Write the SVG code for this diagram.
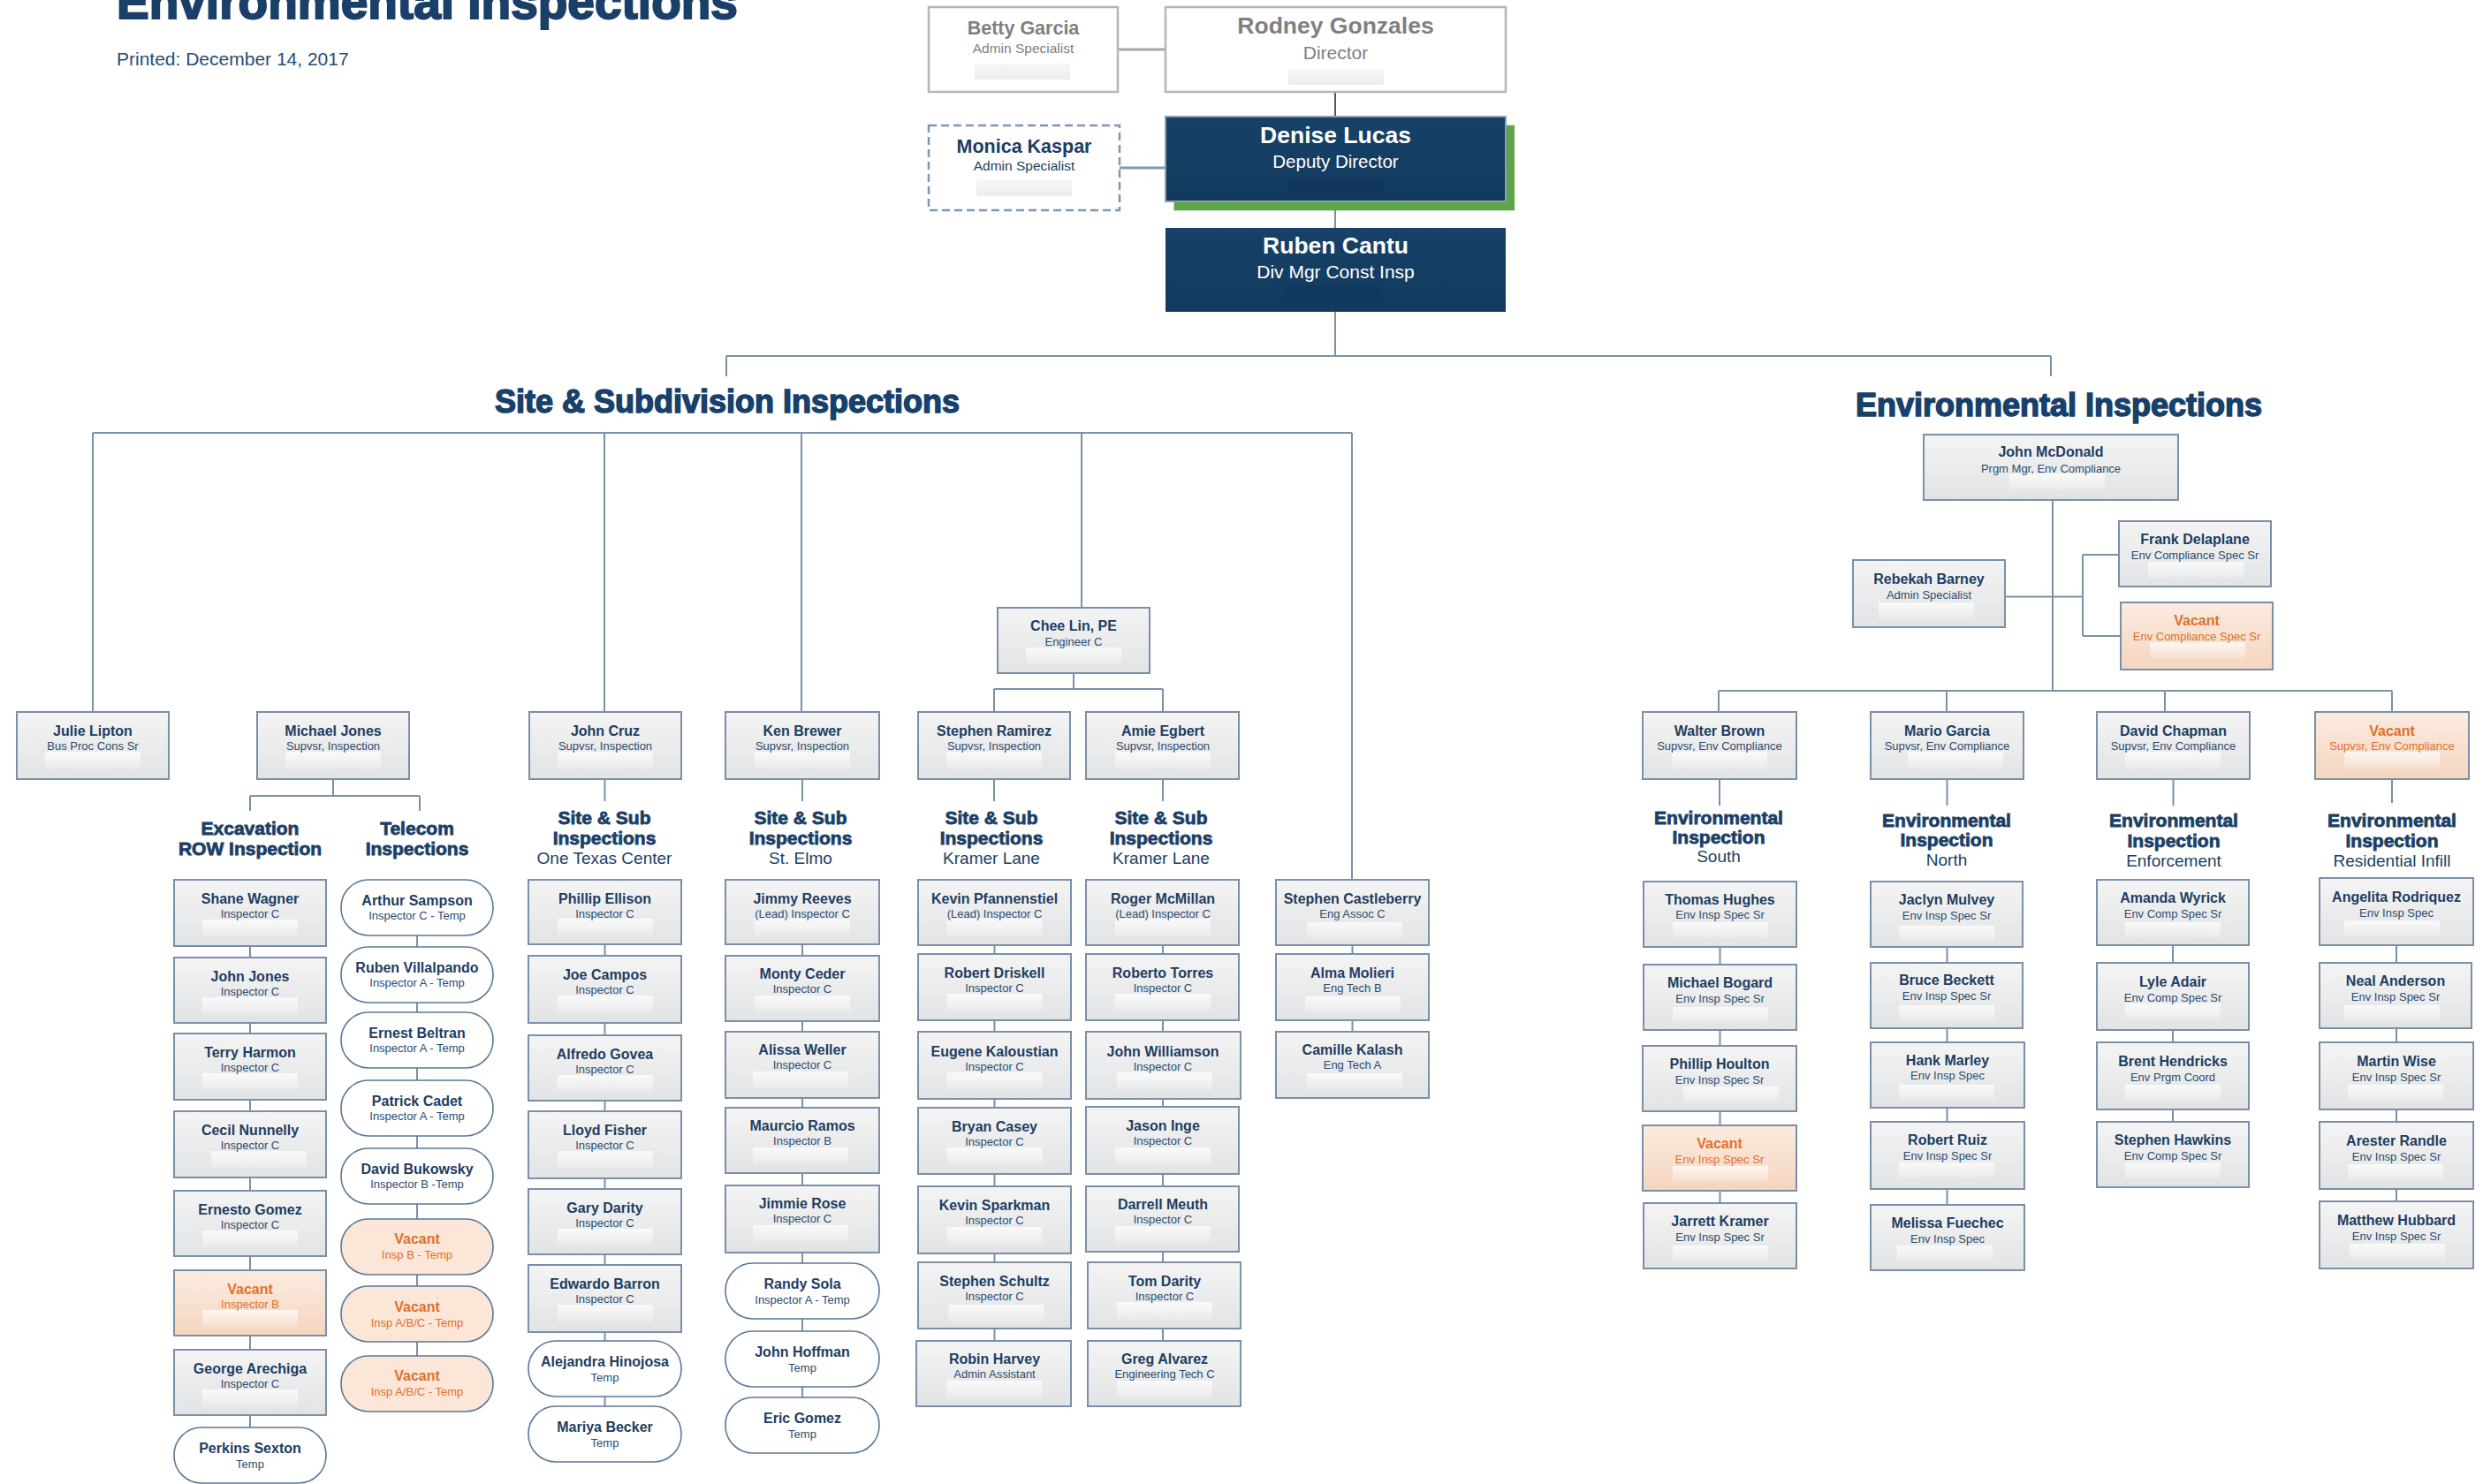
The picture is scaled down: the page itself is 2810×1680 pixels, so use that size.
<svg xmlns="http://www.w3.org/2000/svg" width="2810" height="1680" viewBox="0 0 2810 1680">
<defs>
<linearGradient id="gGray" x1="0" y1="0" x2="0" y2="1"><stop offset="0" stop-color="#f4f4f4"/><stop offset="1" stop-color="#e2e3e5"/></linearGradient>
<linearGradient id="gVac" x1="0" y1="0" x2="0" y2="1"><stop offset="0" stop-color="#fbebe0"/><stop offset="1" stop-color="#f5d5bf"/></linearGradient>
<linearGradient id="gNavy" x1="0" y1="0" x2="0" y2="1"><stop offset="0" stop-color="#174168"/><stop offset="1" stop-color="#123a5e"/></linearGradient>
<linearGradient id="gBand" x1="0" y1="0" x2="0" y2="1"><stop offset="0" stop-color="#ffffff" stop-opacity="0.75"/><stop offset="1" stop-color="#ffffff" stop-opacity="0.15"/></linearGradient>
<linearGradient id="gBandW" x1="0" y1="0" x2="0" y2="1"><stop offset="0" stop-color="#f7f7f7"/><stop offset="1" stop-color="#ececec"/></linearGradient>
</defs>
<style>
text{font-family:"Liberation Sans",Arial,sans-serif;text-anchor:middle}
.box{fill:url(#gGray);stroke:#7a90a8;stroke-width:2}
.vac{fill:url(#gVac);stroke:#7a90a8;stroke-width:2}
.pill{fill:#ffffff;stroke:#5a7898;stroke-width:1.6}
.vpill{fill:#fbe6d8;stroke:#5a7898;stroke-width:1.6}
.band{fill:url(#gBand)}
.nm{font-size:16px;font-weight:bold;fill:#1d3d62}
.tt{font-size:13px;fill:#2b4b70}
.vn{font-size:16px;font-weight:bold;fill:#e0702a}
.vt{font-size:13px;fill:#e0702a}
.hd{font-size:21px;font-weight:bold;fill:#1b3f66;stroke:#1b3f66;stroke-width:0.8}
.sb{font-size:19px;fill:#1b3f66}
.sec{font-size:36px;font-weight:bold;fill:#17406b;stroke:#17406b;stroke-width:1.5}
.cn{stroke:#7a91a9;stroke-width:2;fill:none}
</style>
<rect width="2810" height="1680" fill="#ffffff"/>

<g id="header">
<text x="132" y="21" style="font-size:55px;font-weight:bold;fill:#1a3f68;stroke:#1a3f68;stroke-width:2;text-anchor:start">Environmental Inspections</text>
<text x="132" y="74" style="font-size:21px;fill:#1f4e79;text-anchor:start">Printed: December 14, 2017</text>
<text class="sec" x="823" y="467">Site &amp; Subdivision Inspections</text>
<text class="sec" x="2330" y="471">Environmental Inspections</text>
</g>

<g id="connectors">
<line x1="1265" y1="56" x2="1319" y2="56" stroke="#a6a6a6" stroke-width="3"/>
<line x1="1511" y1="104" x2="1511" y2="132" stroke="#595959" stroke-width="2"/>
<line x1="1267" y1="190" x2="1319" y2="190" stroke="#8098b0" stroke-width="3"/>
<path class="cn" d="M1511 228V258M1511 353V403M822 403H2321M822 403V426M2321 403V426"/>
<path class="cn" d="M105 490H1530M105 490V806M684 490V806M907 490V806M1224 490V688M1530 490V996"/>
<path class="cn" d="M1215 762V780M1125 780H1316M1125 780V806M1316 780V806"/>
<path class="cn" d="M377 882V901M283 901H475M283 901V918M475 901V918"/>
<path class="cn" d="M684.5 882V907M908 882V907M1125 882V907M1316 882V907"/>
<path class="cn" d="M283 1071V1616M472 1059V1535M684.5 1069V1592M908 1069V1582M1125.5 1070V1518M1316 1070V1518M1530.5 1070V1168"/>
<path class="cn" d="M2323 566V782M2270 675.5H2357M2357 628V720M2357 628H2398M2357 720H2400"/>
<path class="cn" d="M1945 782H2707M1945 782V806M2203 782V806M2450 782V806M2707 782V806"/>
<path class="cn" d="M1946 882V912M2203.5 882V912M2459.5 882V912M2707 882V909"/>
<path class="cn" d="M1946.5 1072V1362M2203.5 1072V1364M2459 1070V1270M2712 1070V1360"/>
</g>

<g id="betty-garcia"><rect x="1051" y="8" width="214" height="96" fill="#ffffff" stroke="#b5b5b5" stroke-width="2.5"/><rect x="1103" y="72" width="108" height="18" fill="url(#gBandW)"/><text x="1158" y="39" style="font-size:21.5px;font-weight:bold;fill:#7f7f7f">Betty Garcia</text><text x="1158" y="60" style="font-size:15.5px;fill:#7f7f7f">Admin Specialist</text></g>
<g id="rodney-gonzales"><rect x="1319" y="8" width="385" height="96" fill="#ffffff" stroke="#b5b5b5" stroke-width="2.5"/><rect x="1458" y="78" width="108" height="18" fill="url(#gBandW)"/><text x="1511.5" y="38" style="font-size:26.5px;font-weight:bold;fill:#7f7f7f">Rodney Gonzales</text><text x="1511.5" y="67" style="font-size:21px;fill:#7f7f7f">Director</text></g>
<g id="monica-kaspar"><rect x="1051" y="142" width="216" height="96" fill="#ffffff" stroke="#7f97b0" stroke-width="2.5" stroke-dasharray="9,5"/><rect x="1105" y="204" width="108" height="18" fill="url(#gBandW)"/><text x="1159" y="173" style="font-size:21.5px;font-weight:bold;fill:#1d3d62">Monica Kaspar</text><text x="1159" y="193" style="font-size:15.5px;fill:#1d3d62">Admin Specialist</text></g>
<g id="denise-lucas"><rect x="1328.5" y="141.7" width="385.5" height="96.6" fill="#5da546"/><rect x="1319" y="132" width="385" height="96" fill="url(#gNavy)" stroke="#8d9db0" stroke-width="2"/><rect x="1458" y="203" width="108" height="17" fill="#0f3558" opacity="0.6"/><text x="1511.5" y="162" style="font-size:26.5px;font-weight:bold;fill:#ffffff">Denise Lucas</text><text x="1511.5" y="190" style="font-size:20.5px;fill:#ffffff">Deputy Director</text></g>
<g id="ruben-cantu"><rect x="1319" y="258" width="385" height="95" fill="url(#gNavy)"/><rect x="1454" y="323" width="108" height="18" fill="#0f3558" opacity="0.35"/><text x="1511.5" y="287" style="font-size:26.5px;font-weight:bold;fill:#ffffff">Ruben Cantu</text><text x="1511.5" y="315" style="font-size:21px;fill:#ffffff">Div Mgr Const Insp</text></g>

<g id="chee-lin"><rect class="box" x="1129" y="688" width="172" height="74"/><rect class="band" x="1161" y="733" width="108" height="19"/><text class="nm" x="1215" y="714">Chee Lin, PE</text><text class="tt" x="1215" y="731">Engineer C</text></g>

<g id="julie-lipton"><rect class="box" x="19" y="806" width="172" height="76"/><rect class="band" x="51" y="851" width="108" height="19"/><text class="nm" x="105" y="833">Julie Lipton</text><text class="tt" x="105" y="849">Bus Proc Cons Sr</text></g>
<g id="michael-jones"><rect class="box" x="291" y="806" width="172" height="76"/><rect class="band" x="323" y="851" width="108" height="19"/><text class="nm" x="377" y="833">Michael Jones</text><text class="tt" x="377" y="849">Supvsr, Inspection</text></g>
<g id="john-cruz"><rect class="box" x="599" y="806" width="172" height="76"/><rect class="band" x="631" y="851" width="108" height="19"/><text class="nm" x="685" y="833">John Cruz</text><text class="tt" x="685" y="849">Supvsr, Inspection</text></g>
<g id="ken-brewer"><rect class="box" x="821" y="806" width="174" height="76"/><rect class="band" x="854" y="851" width="108" height="19"/><text class="nm" x="908" y="833">Ken Brewer</text><text class="tt" x="908" y="849">Supvsr, Inspection</text></g>
<g id="stephen-ramirez"><rect class="box" x="1039" y="806" width="172" height="76"/><rect class="band" x="1071" y="851" width="108" height="19"/><text class="nm" x="1125" y="833">Stephen Ramirez</text><text class="tt" x="1125" y="849">Supvsr, Inspection</text></g>
<g id="amie-egbert"><rect class="box" x="1229" y="806" width="173" height="76"/><rect class="band" x="1262" y="851" width="108" height="19"/><text class="nm" x="1316" y="833">Amie Egbert</text><text class="tt" x="1316" y="849">Supvsr, Inspection</text></g>

<g id="headings-site">
<text class="hd" x="283" y="945">Excavation</text><text class="hd" x="283" y="968">ROW Inspection</text>
<text class="hd" x="472" y="945">Telecom</text><text class="hd" x="472" y="968">Inspections</text>
<text class="hd" x="684" y="933">Site &amp; Sub</text><text class="hd" x="684" y="956">Inspections</text><text class="sb" x="684" y="978">One Texas Center</text>
<text class="hd" x="906" y="933">Site &amp; Sub</text><text class="hd" x="906" y="956">Inspections</text><text class="sb" x="906" y="978">St. Elmo</text>
<text class="hd" x="1122" y="933">Site &amp; Sub</text><text class="hd" x="1122" y="956">Inspections</text><text class="sb" x="1122" y="978">Kramer Lane</text>
<text class="hd" x="1314" y="933">Site &amp; Sub</text><text class="hd" x="1314" y="956">Inspections</text><text class="sb" x="1314" y="978">Kramer Lane</text>
</g>

<g id="shane-wagner"><rect class="box" x="197" y="996" width="172" height="75"/><rect class="band" x="229" y="1041" width="108" height="19"/><text class="nm" x="283" y="1023">Shane Wagner</text><text class="tt" x="283" y="1039">Inspector C</text></g>
<g id="john-jones"><rect class="box" x="197" y="1084" width="172" height="74"/><rect class="band" x="229" y="1129" width="108" height="19"/><text class="nm" x="283" y="1111">John Jones</text><text class="tt" x="283" y="1127">Inspector C</text></g>
<g id="terry-harmon"><rect class="box" x="197" y="1170" width="172" height="75"/><rect class="band" x="229" y="1215" width="108" height="19"/><text class="nm" x="283" y="1197">Terry Harmon</text><text class="tt" x="283" y="1213">Inspector C</text></g>
<g id="cecil-nunnelly"><rect class="box" x="197" y="1258" width="172" height="75"/><rect class="band" x="239" y="1303" width="108" height="19"/><text class="nm" x="283" y="1285">Cecil Nunnelly</text><text class="tt" x="283" y="1301">Inspector C</text></g>
<g id="ernesto-gomez"><rect class="box" x="197" y="1348" width="172" height="74"/><rect class="band" x="229" y="1393" width="108" height="19"/><text class="nm" x="283" y="1375">Ernesto Gomez</text><text class="tt" x="283" y="1391">Inspector C</text></g>
<g id="vacant-inspector-b"><rect class="vac" x="197" y="1438" width="172" height="74"/><rect class="band" x="229" y="1483" width="108" height="19"/><text class="vn" x="283" y="1465">Vacant</text><text class="vt" x="283" y="1481">Inspector B</text></g>
<g id="george-arechiga"><rect class="box" x="197" y="1528" width="172" height="74"/><rect class="band" x="229" y="1573" width="108" height="19"/><text class="nm" x="283" y="1555">George Arechiga</text><text class="tt" x="283" y="1571">Inspector C</text></g>
<g id="perkins-sexton"><rect class="pill" x="197" y="1616" width="172" height="63" rx="31" ry="31"/><text class="nm" x="283" y="1645">Perkins Sexton</text><text class="tt" x="283" y="1662">Temp</text></g>

<g id="arthur-sampson"><rect class="pill" x="386" y="996" width="172" height="63" rx="31" ry="31"/><text class="nm" x="472" y="1025">Arthur Sampson</text><text class="tt" x="472" y="1041">Inspector C - Temp</text></g>
<g id="ruben-villalpando"><rect class="pill" x="386" y="1072" width="172" height="63" rx="31" ry="31"/><text class="nm" x="472" y="1101">Ruben Villalpando</text><text class="tt" x="472" y="1117">Inspector A - Temp</text></g>
<g id="ernest-beltran"><rect class="pill" x="386" y="1146" width="172" height="63" rx="31" ry="31"/><text class="nm" x="472" y="1175">Ernest Beltran</text><text class="tt" x="472" y="1191">Inspector A - Temp</text></g>
<g id="patrick-cadet"><rect class="pill" x="386" y="1223" width="172" height="63" rx="31" ry="31"/><text class="nm" x="472" y="1252">Patrick Cadet</text><text class="tt" x="472" y="1268">Inspector A - Temp</text></g>
<g id="david-bukowsky"><rect class="pill" x="386" y="1300" width="172" height="63" rx="31" ry="31"/><text class="nm" x="472" y="1329">David Bukowsky</text><text class="tt" x="472" y="1345">Inspector B -Temp</text></g>
<g id="vacant-insp-b-temp"><rect class="vpill" x="386" y="1380" width="172" height="63" rx="31" ry="31"/><text class="vn" x="472" y="1408">Vacant</text><text class="vt" x="472" y="1425">Insp B - Temp</text></g>
<g id="vacant-insp-abc-temp-1"><rect class="vpill" x="386" y="1456" width="172" height="63" rx="31" ry="31"/><text class="vn" x="472" y="1485">Vacant</text><text class="vt" x="472" y="1502">Insp A/B/C - Temp</text></g>
<g id="vacant-insp-abc-temp-2"><rect class="vpill" x="386" y="1535" width="172" height="63" rx="31" ry="31"/><text class="vn" x="472" y="1563">Vacant</text><text class="vt" x="472" y="1580">Insp A/B/C - Temp</text></g>

<g id="phillip-ellison"><rect class="box" x="598" y="996" width="173" height="73"/><rect class="band" x="631" y="1040" width="108" height="19"/><text class="nm" x="684.5" y="1023">Phillip Ellison</text><text class="tt" x="684.5" y="1039">Inspector C</text></g>
<g id="joe-campos"><rect class="box" x="598" y="1082" width="173" height="76"/><rect class="band" x="631" y="1127" width="108" height="19"/><text class="nm" x="684.5" y="1109">Joe Campos</text><text class="tt" x="684.5" y="1125">Inspector C</text></g>
<g id="alfredo-govea"><rect class="box" x="598" y="1172" width="173" height="74"/><rect class="band" x="631" y="1217" width="108" height="19"/><text class="nm" x="684.5" y="1199">Alfredo Govea</text><text class="tt" x="684.5" y="1215">Inspector C</text></g>
<g id="lloyd-fisher"><rect class="box" x="598" y="1258" width="173" height="76"/><rect class="band" x="631" y="1303" width="108" height="19"/><text class="nm" x="684.5" y="1285">Lloyd Fisher</text><text class="tt" x="684.5" y="1301">Inspector C</text></g>
<g id="gary-darity"><rect class="box" x="598" y="1346" width="173" height="74"/><rect class="band" x="631" y="1391" width="108" height="19"/><text class="nm" x="684.5" y="1373">Gary Darity</text><text class="tt" x="684.5" y="1389">Inspector C</text></g>
<g id="edwardo-barron"><rect class="box" x="598" y="1432" width="173" height="76"/><rect class="band" x="631" y="1477" width="108" height="19"/><text class="nm" x="684.5" y="1459">Edwardo Barron</text><text class="tt" x="684.5" y="1475">Inspector C</text></g>
<g id="alejandra-hinojosa"><rect class="pill" x="598" y="1518" width="173" height="63" rx="31" ry="31"/><text class="nm" x="684.5" y="1547">Alejandra Hinojosa</text><text class="tt" x="684.5" y="1564">Temp</text></g>
<g id="mariya-becker"><rect class="pill" x="598" y="1592" width="173" height="63" rx="31" ry="31"/><text class="nm" x="684.5" y="1621">Mariya Becker</text><text class="tt" x="684.5" y="1638">Temp</text></g>

<g id="jimmy-reeves"><rect class="box" x="821" y="996" width="174" height="73"/><rect class="band" x="854" y="1040" width="108" height="19"/><text class="nm" x="908" y="1023">Jimmy Reeves</text><text class="tt" x="908" y="1039">(Lead) Inspector C</text></g>
<g id="monty-ceder"><rect class="box" x="821" y="1082" width="174" height="74"/><rect class="band" x="854" y="1127" width="108" height="19"/><text class="nm" x="908" y="1108">Monty Ceder</text><text class="tt" x="908" y="1124">Inspector C</text></g>
<g id="alissa-weller"><rect class="box" x="821" y="1168" width="174" height="75"/><rect class="band" x="852" y="1213" width="108" height="19"/><text class="nm" x="908" y="1194">Alissa Weller</text><text class="tt" x="908" y="1210">Inspector C</text></g>
<g id="maurcio-ramos"><rect class="box" x="821" y="1254" width="174" height="74"/><rect class="band" x="852" y="1299" width="108" height="19"/><text class="nm" x="908" y="1280">Maurcio Ramos</text><text class="tt" x="908" y="1296">Inspector B</text></g>
<g id="jimmie-rose"><rect class="box" x="821" y="1342" width="174" height="76"/><rect class="band" x="852" y="1387" width="108" height="19"/><text class="nm" x="908" y="1368">Jimmie Rose</text><text class="tt" x="908" y="1384">Inspector C</text></g>
<g id="randy-sola"><rect class="pill" x="821" y="1430" width="174" height="63" rx="31" ry="31"/><text class="nm" x="908" y="1459">Randy Sola</text><text class="tt" x="908" y="1476">Inspector A - Temp</text></g>
<g id="john-hoffman"><rect class="pill" x="821" y="1507" width="174" height="63" rx="31" ry="31"/><text class="nm" x="908" y="1536">John Hoffman</text><text class="tt" x="908" y="1553">Temp</text></g>
<g id="eric-gomez"><rect class="pill" x="821" y="1582" width="174" height="63" rx="31" ry="31"/><text class="nm" x="908" y="1611">Eric Gomez</text><text class="tt" x="908" y="1628">Temp</text></g>

<g id="kevin-pfannenstiel"><rect class="box" x="1039" y="996" width="173" height="74"/><rect class="band" x="1071.5" y="1040" width="108" height="20"/><text class="nm" x="1125.5" y="1023">Kevin Pfannenstiel</text><text class="tt" x="1125.5" y="1039">(Lead) Inspector C</text></g>
<g id="robert-driskell"><rect class="box" x="1039" y="1080" width="173" height="75"/><rect class="band" x="1071.5" y="1125" width="108" height="20"/><text class="nm" x="1125.5" y="1107">Robert Driskell</text><text class="tt" x="1125.5" y="1123">Inspector C</text></g>
<g id="eugene-kaloustian"><rect class="box" x="1039" y="1168" width="173" height="76"/><rect class="band" x="1071.5" y="1214" width="108" height="20"/><text class="nm" x="1125.5" y="1196">Eugene Kaloustian</text><text class="tt" x="1125.5" y="1212">Inspector C</text></g>
<g id="bryan-casey"><rect class="box" x="1039" y="1254" width="173" height="75"/><rect class="band" x="1071.5" y="1299" width="108" height="20"/><text class="nm" x="1125.5" y="1281">Bryan Casey</text><text class="tt" x="1125.5" y="1297">Inspector C</text></g>
<g id="kevin-sparkman"><rect class="box" x="1039" y="1343" width="173" height="76"/><rect class="band" x="1071.5" y="1389" width="108" height="20"/><text class="nm" x="1125.5" y="1370">Kevin Sparkman</text><text class="tt" x="1125.5" y="1386">Inspector C</text></g>
<g id="stephen-schultz"><rect class="box" x="1039" y="1429" width="173" height="75"/><rect class="band" x="1073.5" y="1477" width="108" height="20"/><text class="nm" x="1125.5" y="1456">Stephen Schultz</text><text class="tt" x="1125.5" y="1472">Inspector C</text></g>
<g id="robin-harvey"><rect class="box" x="1037" y="1518" width="175" height="74"/><rect class="band" x="1071.5" y="1563" width="108" height="20"/><text class="nm" x="1125.5" y="1544">Robin Harvey</text><text class="tt" x="1125.5" y="1560">Admin Assistant</text></g>

<g id="roger-mcmillan"><rect class="box" x="1229" y="996" width="173" height="74"/><rect class="band" x="1262" y="1040" width="108" height="20"/><text class="nm" x="1316" y="1023">Roger McMillan</text><text class="tt" x="1316" y="1039">(Lead) Inspector C</text></g>
<g id="roberto-torres"><rect class="box" x="1229" y="1080" width="173" height="75"/><rect class="band" x="1262" y="1125" width="108" height="20"/><text class="nm" x="1316" y="1107">Roberto Torres</text><text class="tt" x="1316" y="1123">Inspector C</text></g>
<g id="john-williamson"><rect class="box" x="1229" y="1168" width="175" height="76"/><rect class="band" x="1264" y="1214" width="108" height="20"/><text class="nm" x="1316" y="1196">John Williamson</text><text class="tt" x="1316" y="1212">Inspector C</text></g>
<g id="jason-inge"><rect class="box" x="1229" y="1253" width="173" height="76"/><rect class="band" x="1262" y="1299" width="108" height="20"/><text class="nm" x="1316" y="1280">Jason Inge</text><text class="tt" x="1316" y="1296">Inspector C</text></g>
<g id="darrell-meuth"><rect class="box" x="1229" y="1343" width="173" height="74"/><rect class="band" x="1262" y="1388" width="108" height="20"/><text class="nm" x="1316" y="1369">Darrell Meuth</text><text class="tt" x="1316" y="1385">Inspector C</text></g>
<g id="tom-darity"><rect class="box" x="1231" y="1429" width="173" height="75"/><rect class="band" x="1264" y="1474" width="108" height="20"/><text class="nm" x="1318" y="1456">Tom Darity</text><text class="tt" x="1318" y="1472">Inspector C</text></g>
<g id="greg-alvarez"><rect class="box" x="1231" y="1518" width="173" height="74"/><rect class="band" x="1264" y="1563" width="108" height="20"/><text class="nm" x="1318" y="1544">Greg Alvarez</text><text class="tt" x="1318" y="1560">Engineering Tech C</text></g>

<g id="stephen-castleberry"><rect class="box" x="1444" y="996" width="173" height="74"/><rect class="band" x="1479" y="1044" width="108" height="19"/><text class="nm" x="1530.5" y="1023">Stephen Castleberry</text><text class="tt" x="1530.5" y="1039">Eng Assoc C</text></g>
<g id="alma-molieri"><rect class="box" x="1444" y="1080" width="173" height="75"/><rect class="band" x="1477" y="1128" width="108" height="19"/><text class="nm" x="1530.5" y="1107">Alma Molieri</text><text class="tt" x="1530.5" y="1123">Eng Tech B</text></g>
<g id="camille-kalash"><rect class="box" x="1444" y="1168" width="173" height="75"/><rect class="band" x="1479" y="1215" width="108" height="19"/><text class="nm" x="1530.5" y="1194">Camille Kalash</text><text class="tt" x="1530.5" y="1210">Eng Tech A</text></g>

<g id="john-mcdonald"><rect class="box" x="2177" y="492" width="288" height="74"/><rect class="band" x="2274" y="536" width="108" height="19"/><text class="nm" x="2321" y="517">John McDonald</text><text class="tt" x="2321" y="535">Prgm Mgr, Env Compliance</text></g>
<g id="rebekah-barney"><rect class="box" x="2097" y="634" width="172" height="76"/><rect class="band" x="2126" y="682" width="108" height="19"/><text class="nm" x="2183" y="661">Rebekah Barney</text><text class="tt" x="2183" y="678">Admin Specialist</text></g>
<g id="frank-delaplane"><rect class="box" x="2398" y="590" width="172" height="74"/><rect class="band" x="2431" y="636" width="108" height="19"/><text class="nm" x="2484" y="616">Frank Delaplane</text><text class="tt" x="2484" y="633">Env Compliance Spec Sr</text></g>
<g id="vacant-env-compliance-spec-sr"><rect class="vac" x="2400" y="682" width="172" height="76"/><rect class="band" x="2433" y="727" width="108" height="19"/><text class="vn" x="2486" y="708">Vacant</text><text class="vt" x="2486" y="725">Env Compliance Spec Sr</text></g>

<g id="walter-brown"><rect class="box" x="1859" y="806" width="174" height="76"/><rect class="band" x="1892" y="851" width="108" height="19"/><text class="nm" x="1946" y="833">Walter Brown</text><text class="tt" x="1946" y="849">Supvsr, Env Compliance</text></g>
<g id="mario-garcia"><rect class="box" x="2117" y="806" width="173" height="76"/><rect class="band" x="2159" y="851" width="108" height="19"/><text class="nm" x="2203.5" y="833">Mario Garcia</text><text class="tt" x="2203.5" y="849">Supvsr, Env Compliance</text></g>
<g id="david-chapman"><rect class="box" x="2373" y="806" width="173" height="76"/><rect class="band" x="2405" y="851" width="108" height="19"/><text class="nm" x="2459.5" y="833">David Chapman</text><text class="tt" x="2459.5" y="849">Supvsr, Env Compliance</text></g>
<g id="vacant-supvsr-env-compliance"><rect class="vac" x="2620" y="806" width="174" height="76"/><rect class="band" x="2653" y="851" width="108" height="19"/><text class="vn" x="2707" y="833">Vacant</text><text class="vt" x="2707" y="849">Supvsr, Env Compliance</text></g>

<g id="headings-env">
<text class="hd" x="1945" y="933">Environmental</text><text class="hd" x="1945" y="955">Inspection</text><text class="sb" x="1945" y="976">South</text>
<text class="hd" x="2203" y="936">Environmental</text><text class="hd" x="2203" y="958">Inspection</text><text class="sb" x="2203" y="980">North</text>
<text class="hd" x="2460" y="936">Environmental</text><text class="hd" x="2460" y="959">Inspection</text><text class="sb" x="2460" y="981">Enforcement</text>
<text class="hd" x="2707" y="936">Environmental</text><text class="hd" x="2707" y="959">Inspection</text><text class="sb" x="2707" y="981">Residential Infill</text>
</g>

<g id="thomas-hughes"><rect class="box" x="1860" y="998" width="173" height="74"/><rect class="band" x="1893" y="1044" width="108" height="18"/><text class="nm" x="1946.5" y="1024">Thomas Hughes</text><text class="tt" x="1946.5" y="1040">Env Insp Spec Sr</text></g>
<g id="michael-bogard"><rect class="box" x="1860" y="1092" width="173" height="74"/><rect class="band" x="1893" y="1140" width="108" height="18"/><text class="nm" x="1946.5" y="1118">Michael Bogard</text><text class="tt" x="1946.5" y="1135">Env Insp Spec Sr</text></g>
<g id="phillip-houlton"><rect class="box" x="1859" y="1184" width="174" height="74"/><rect class="band" x="1905" y="1230" width="108" height="18"/><text class="nm" x="1946" y="1210">Phillip Houlton</text><text class="tt" x="1946" y="1227">Env Insp Spec Sr</text></g>
<g id="vacant-env-insp-spec-sr"><rect class="vac" x="1859" y="1274" width="174" height="74"/><rect class="band" x="1893" y="1320" width="108" height="18"/><text class="vn" x="1946" y="1300">Vacant</text><text class="vt" x="1946" y="1317">Env Insp Spec Sr</text></g>
<g id="jarrett-kramer"><rect class="box" x="1860" y="1362" width="173" height="74"/><rect class="band" x="1893" y="1410" width="108" height="18"/><text class="nm" x="1946.5" y="1388">Jarrett Kramer</text><text class="tt" x="1946.5" y="1405">Env Insp Spec Sr</text></g>

<g id="jaclyn-mulvey"><rect class="box" x="2117" y="998" width="172" height="74"/><rect class="band" x="2149" y="1048" width="108" height="18"/><text class="nm" x="2203" y="1024">Jaclyn Mulvey</text><text class="tt" x="2203" y="1041">Env Insp Spec Sr</text></g>
<g id="bruce-beckett"><rect class="box" x="2117" y="1090" width="172" height="74"/><rect class="band" x="2149" y="1138" width="108" height="18"/><text class="nm" x="2203" y="1115">Bruce Beckett</text><text class="tt" x="2203" y="1132">Env Insp Spec Sr</text></g>
<g id="hank-marley"><rect class="box" x="2117" y="1180" width="174" height="74"/><rect class="band" x="2149" y="1228" width="108" height="18"/><text class="nm" x="2204" y="1206">Hank Marley</text><text class="tt" x="2204" y="1222">Env Insp Spec</text></g>
<g id="robert-ruiz"><rect class="box" x="2117" y="1270" width="174" height="76"/><rect class="band" x="2149" y="1316" width="108" height="18"/><text class="nm" x="2204" y="1296">Robert Ruiz</text><text class="tt" x="2204" y="1313">Env Insp Spec Sr</text></g>
<g id="melissa-fuechec"><rect class="box" x="2117" y="1364" width="174" height="74"/><rect class="band" x="2147" y="1410" width="108" height="18"/><text class="nm" x="2204" y="1390">Melissa Fuechec</text><text class="tt" x="2204" y="1407">Env Insp Spec</text></g>

<g id="amanda-wyrick"><rect class="box" x="2373" y="996" width="172" height="74"/><rect class="band" x="2405" y="1044" width="108" height="18"/><text class="nm" x="2459" y="1022">Amanda Wyrick</text><text class="tt" x="2459" y="1039">Env Comp Spec Sr</text></g>
<g id="lyle-adair"><rect class="box" x="2373" y="1090" width="172" height="76"/><rect class="band" x="2405" y="1136" width="108" height="18"/><text class="nm" x="2459" y="1117">Lyle Adair</text><text class="tt" x="2459" y="1134">Env Comp Spec Sr</text></g>
<g id="brent-hendricks"><rect class="box" x="2373" y="1180" width="172" height="76"/><rect class="band" x="2405" y="1228" width="108" height="18"/><text class="nm" x="2459" y="1207">Brent Hendricks</text><text class="tt" x="2459" y="1224">Env Prgm Coord</text></g>
<g id="stephen-hawkins"><rect class="box" x="2373" y="1270" width="172" height="74"/><rect class="band" x="2405" y="1316" width="108" height="18"/><text class="nm" x="2459" y="1296">Stephen Hawkins</text><text class="tt" x="2459" y="1313">Env Comp Spec Sr</text></g>

<g id="angelita-rodriquez"><rect class="box" x="2625" y="994" width="174" height="76"/><rect class="band" x="2653" y="1042" width="108" height="18"/><text class="nm" x="2712" y="1021">Angelita Rodriquez</text><text class="tt" x="2712" y="1038">Env Insp Spec</text></g>
<g id="neal-anderson"><rect class="box" x="2625" y="1090" width="172" height="74"/><rect class="band" x="2653" y="1138" width="108" height="18"/><text class="nm" x="2711" y="1116">Neal Anderson</text><text class="tt" x="2711" y="1133">Env Insp Spec Sr</text></g>
<g id="martin-wise"><rect class="box" x="2625" y="1180" width="174" height="76"/><rect class="band" x="2657" y="1228" width="108" height="18"/><text class="nm" x="2712" y="1207">Martin Wise</text><text class="tt" x="2712" y="1224">Env Insp Spec Sr</text></g>
<g id="arester-randle"><rect class="box" x="2625" y="1270" width="174" height="76"/><rect class="band" x="2657" y="1318" width="108" height="18"/><text class="nm" x="2712" y="1297">Arester Randle</text><text class="tt" x="2712" y="1314">Env Insp Spec Sr</text></g>
<g id="matthew-hubbard"><rect class="box" x="2625" y="1360" width="174" height="76"/><rect class="band" x="2659" y="1408" width="108" height="18"/><text class="nm" x="2712" y="1387">Matthew Hubbard</text><text class="tt" x="2712" y="1404">Env Insp Spec Sr</text></g>
</svg>
